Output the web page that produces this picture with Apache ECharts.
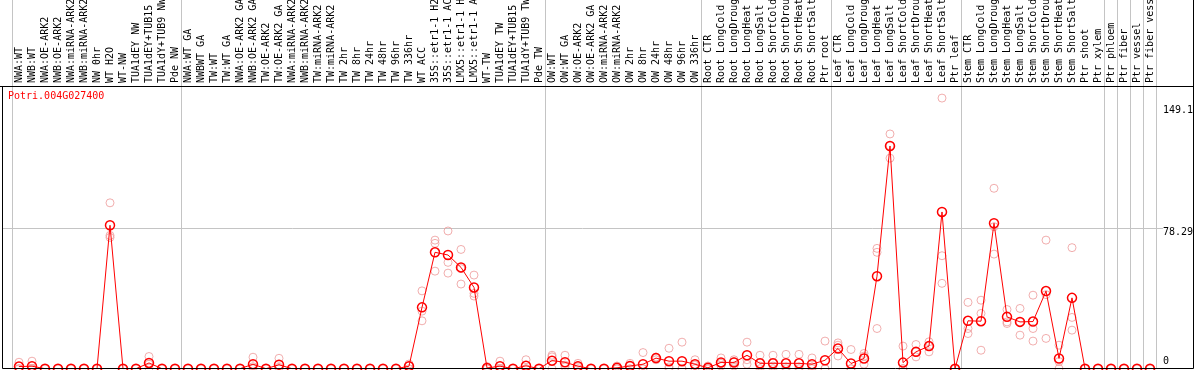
<!DOCTYPE html>
<html><head><meta charset="utf-8">
<script src="https://cdn.jsdelivr.net/npm/echarts@6/dist/echarts.min.js"></script>
<style>html,body{margin:0;padding:0;background:#fff}#c{width:1194px;height:370px}</style>
</head><body><div id="c"></div><script>
const geneName = 'Potri.004G027400';
const categories = [
 'NWA:WT','NWB:WT','NWA:OE-ARK2','NWB:OE-ARK2','NWA:miRNA-ARK2','NWB:miRNA-ARK2','NW 0hr','WT H2O','WT-NW','TUA1dEY NW','TUA1dEY+TUB15 NW','TUA1dY+TUB9 NW','Pde NW',
 'NWA:WT GA','NWBWT GA','TW:WT','TW:WT GA','NWA:OE-ARK2 GA','NWB:OE-ARK2 GA','TW:OE-ARK2','TW:OE-ARK2 GA','NWA:miRNA-ARK2 GA','NWB:miRNA-ARK2 GA','TW:miRNA-ARK2','TW:miRNA-ARK2 GA','TW 2hr','TW 8hr','TW 24hr','TW 48hr','TW 96hr','TW 336hr','WT ACC','35S::etr1-1 H2O','35S::etr1-1 ACC','LMX5::etr1-1 H2O','LMX5::etr1-1 ACC','WT-TW','TUA1dEY TW','TUA1dEY+TUB15 TW','TUA1dY+TUB9 TW','Pde TW',
 'OW:WT','OW:WT GA','OW:OE-ARK2','OW:OE-ARK2 GA','OW:miRNA-ARK2','OW:miRNA-ARK2 GA','OW 2hr','OW 8hr','OW 24hr','OW 48hr','OW 96hr','OW 336hr',
 'Root CTR','Root LongCold','Root LongDrought','Root LongHeat','Root LongSalt','Root ShortCold','Root ShortDrought','Root ShortHeat','Root ShortSalt','Ptr root',
 'Leaf CTR','Leaf LongCold','Leaf LongDrought','Leaf LongHeat','Leaf LongSalt','Leaf ShortCold','Leaf ShortDrought','Leaf ShortHeat','Leaf ShortSalt','Ptr leaf',
 'Stem CTR','Stem LongCold','Stem LongDrought','Stem LongHeat','Stem LongSalt','Stem ShortCold','Stem ShortDrought','Stem ShortHeat','Stem ShortSalt','Ptr shoot','Ptr xylem',
 'Ptr phloem','Ptr fiber','Ptr vessel','Ptr fiber vessel'
];
const groupStarts = [0,13,41,53,63,73,84,85,86,87,88];
const meanValues = [
 1.2,1.4,0,0,0,0,0,80.0,0,0,3.2,0,0,
 0,0,0,0,0,2.5,0,2.2,0,0,0,0,0,0,0,0,0,1.4,34.2,64.9,63.4,56.5,45.3,0.4,1.4,0,1.6,0,
 4.5,3.6,1.4,0,0,0.5,1.5,2.5,5.9,4.2,4.2,2.5,
 0.5,3.5,3.5,7.5,3,3,3,3,2.5,4.7,
 11.3,2.9,5.7,51.6,124.2,3.4,9.4,12.6,87.4,0,
 26.7,26.5,81.1,28.9,26.1,26.3,43.3,5.7,39.5,0,0,
 0,0,0,0
];
const rep1 = [
 3.6,4.2,0,0,0,0,0,92.5,0,0,6.8,0,0,
 0,0,0,0,0,6.4,0,5.8,0,0,0,0,0,0,0,0,0,2.6,43.4,71.7,76.8,66.5,52.2,1.2,4.2,0,5.0,0,
 7.5,7.5,3,0,0,1.5,3,9,6.5,11.4,14.8,5,
 1.5,6,5,14.8,7.5,7.5,8,8,6,15.4,
 14.4,10.7,8.5,67.1,130.9,12.6,13.5,15.0,150.9,0,
 37.0,38.2,100.6,33.0,33.6,41.0,71.7,13.1,67.5,0,0,
 0,0,0,0
];
const rep2 = [
 0,0,0,0,0,0,0,74.3,0,0,2.5,0,0,
 0,0,0,0,0,1.1,0,0.8,0,0,0,0,0,0,0,0,0,1.5,32.1,69.9,59.3,55.8,42.0,0,0,0,0,0,
 6.6,2,1,0,0,0,1.5,0,6,1,0,2,
 0,3,4,5,1.5,1.5,1,1,1,0,
 13.1,0,7.0,64.9,124.3,0,9.4,12.6,63.0,0,
 22.4,30.8,79.2,26.1,26.1,22.4,41.3,4,28.6,0,0,
 0,0,0,0
];
const rep3 = [
 0,0,0,0,0,0,0,73.2,0,0,0.3,0,0,
 0,0,0,0,0,0,0,0,0,0,0,0,0,0,0,0,0,0,26.7,54.4,53.3,47.2,40.5,0,0,0,0,0,
 0,1,0,0,0,0,0,0,5,0,0,0,
 0,1.5,1.5,2.5,0,0,0,0,0,0,
 7.1,0,2.5,22.4,117.4,0,6.6,9.4,47.6,0,
 19.6,10.3,63.9,25.2,18.7,15.4,16.9,0,21.5,0,0,
 0,0,0,0
];
const yTickLabels = ['149.1','78.29','0'];
const yTickValues = [149.1, 78.29, 0];
const refLineValue = 78.29;
const yMax = 205.6;

const FONT = 'DejaVu Sans Mono';
const chart = echarts.init(document.getElementById('c'), null, {renderer:'canvas'});
const PINK = '#ee9a9a';
const repSeries = [rep1, rep2, rep3].map((r, k) => ({
  type: 'scatter', name: 'rep' + (k + 1), data: r,
  symbol: 'circle', symbolSize: 8,
  itemStyle: {color: 'transparent', borderColor: PINK, borderWidth: 1},
  z: 2, silent: true
}));
chart.setOption({
  animation: false,
  backgroundColor: '#fff',
  title: {text: geneName, left: 8, top: 91, padding: 0,
    textStyle: {fontFamily: FONT, fontSize: 10, fontWeight: 'normal', color: '#ff0000'}},
  grid: {left: 12.5, right: 37.5, top: 0, bottom: 1.3, outerBoundsMode: 'none', containLabel: false},
  xAxis: {
    type: 'category', data: categories, position: 'top', offset: -86, boundaryGap: true,
    axisLine: {show: false}, axisTick: {show: false},
    axisLabel: {rotate: 90, interval: 0, margin: 3, fontFamily: FONT, fontSize: 10, color: '#000'},
    splitLine: {show: true, interval: (i) => groupStarts.includes(i), lineStyle: {color: '#c4c4c4', width: 1}}
  },
  yAxis: {type: 'value', min: 0, max: yMax, show: false},
  series: repSeries.concat([{
    type: 'line', name: 'mean', data: meanValues,
    symbol: 'circle', symbolSize: 9, showAllSymbol: true,
    itemStyle: {color: 'transparent', borderColor: '#ff0000', borderWidth: 1.5},
    lineStyle: {color: '#ff0000', width: 1},
    z: 3, silent: true
  }])
});
const py = v => chart.convertToPixel({yAxisIndex: 0}, v);
const labelOffsets = [9.5, 4, -7];
const g = [
  {type: 'rect', shape: {x: 2.5, y: 86.5, width: 1191, height: 282}, style: {fill: null, stroke: '#000', lineWidth: 1}, z: 10},
  {type: 'line', shape: {x1: 0, y1: 86.5, x2: 1194, y2: 86.5}, style: {stroke: '#000', lineWidth: 1}, z: 10},
  {type: 'line', shape: {x1: 1193.5, y1: 0, x2: 1193.5, y2: 87}, style: {stroke: '#000', lineWidth: 1}, z: 10},
  {type: 'line', shape: {x1: 2, y1: Math.round(py(refLineValue)) + 0.5, x2: 1163, y2: Math.round(py(refLineValue)) + 0.5}, style: {stroke: '#c4c4c4', lineWidth: 1}, z: 0}
];
yTickValues.forEach((v, i) => {
  g.push({type: 'text', x: 1163, y: py(v) + labelOffsets[i], style: {text: yTickLabels[i], font: '10px "DejaVu Sans Mono"', fill: '#000', textAlign: 'left', textVerticalAlign: 'middle'}, z: 10});
});
chart.setOption({graphic: g});
</script></body></html>
